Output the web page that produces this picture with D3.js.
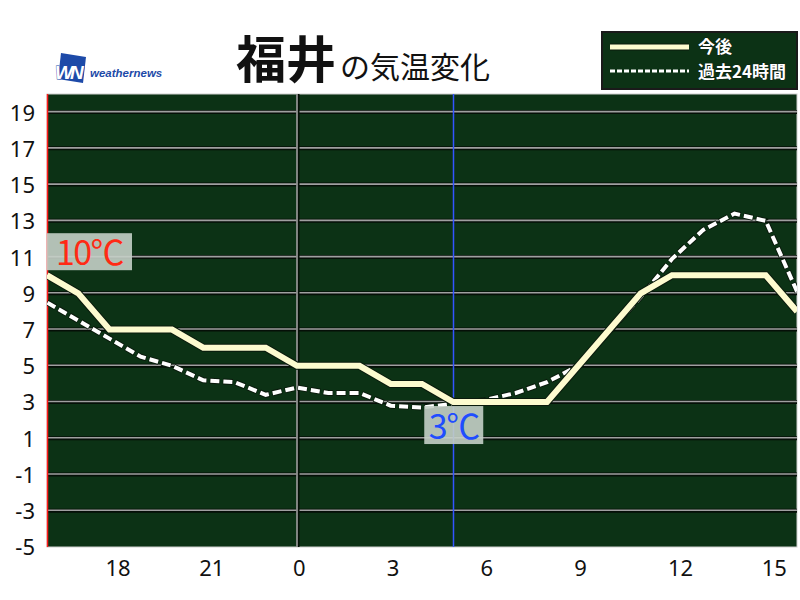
<!DOCTYPE html>
<html>
  <head>
    <meta charset="utf-8">
    <title>福井の気温変化</title>
    <script src="https://d3js.org/d3.v7.min.js"></script>
    <style>
      body { margin: 0; background: #fff; }
      svg text { font-family: "Noto Sans CJK JP", "Noto Sans", sans-serif; }
    </style>
  </head>
  <body>
    <svg id="chart" width="800" height="600"></svg>
    <script>
      // data: hourly temperatures from 16:00 to 16:00 next day
      const hours = [16, 17, 18, 19, 20, 21, 22, 23, 0, 1, 2, 3, 4, 5, 6, 7, 8, 9, 10, 11, 12, 13, 14, 15, 16];
      const forecast = [10, 9, 7, 7, 7, 6, 6, 6, 5, 5, 5, 4, 4, 3, 3, 3, 3, 5, 7, 9, 10, 10, 10, 10, 8];
      const past24 = [8.5, 7.5, 6.5, 5.5, 5.0, 4.2, 4.1, 3.4, 3.8, 3.5, 3.5, 2.8, 2.7, 2.9, 3.1, 3.5, 4.1, 5.0, 6.9, 8.8, 10.9, 12.5, 13.4, 13.0, 9.1];
      const hourTicks = [18, 21, 0, 3, 6, 9, 12, 15];
      const tempTicks = [-5, -3, -1, 1, 3, 5, 7, 9, 11, 13, 15, 17, 19];
      const legendLabels = ["今後", "過去24時間"];
      const city = "福井";

      const svg = d3.select("#chart");
      const margin = { top: 94, right: 3, bottom: 53, left: 47 };
      const width = 800, height = 600;

      const x = d3.scaleLinear()
        .domain([0, hours.length - 1])
        .range([margin.left, width - margin.right]);
      const y = d3.scaleLinear()
        .domain([-5, 20])
        .range([height - margin.bottom, margin.top]);

      // plot background
      svg.append("rect")
        .attr("x", x(0)).attr("y", y(20))
        .attr("width", x(24) - x(0)).attr("height", y(-5) - y(20))
        .attr("fill", "#0c3215")
        .attr("stroke", "#cfcfcf").attr("stroke-width", 1);

      // horizontal grid
      const grid = svg.append("g");
      tempTicks.filter(function(t) { return t > -5; }).forEach(function(t) {
        grid.append("line")
          .attr("x1", x(0)).attr("x2", x(24))
          .attr("y1", y(t)).attr("y2", y(t))
          .attr("stroke", "#050f07").attr("stroke-width", 4);
        grid.append("line")
          .attr("x1", x(0)).attr("x2", x(24))
          .attr("y1", y(t) - 0.5).attr("y2", y(t) - 0.5)
          .attr("stroke", "#a0a0a0").attr("stroke-width", 1.6);
      });

      // midnight line
      const midnight = hours.indexOf(0);
      grid.append("line")
        .attr("x1", x(midnight) + 1).attr("x2", x(midnight) + 1)
        .attr("y1", y(20)).attr("y2", y(-5))
        .attr("stroke", "#050f07").attr("stroke-width", 3);
      grid.append("line")
        .attr("x1", x(midnight)).attr("x2", x(midnight))
        .attr("y1", y(20)).attr("y2", y(-5))
        .attr("stroke", "#a0a0a0").attr("stroke-width", 1.6);

      // max / min markers
      const maxI = forecast.indexOf(d3.max(forecast));
      const minI = forecast.indexOf(d3.min(forecast));
      svg.append("line")
        .attr("x1", Math.round(x(maxI)) + 0.5).attr("x2", Math.round(x(maxI)) + 0.5)
        .attr("y1", y(20)).attr("y2", y(-5))
        .attr("stroke", "#ff1a1a").attr("stroke-width", 1.5);
      svg.append("line")
        .attr("x1", Math.round(x(minI)) + 0.5).attr("x2", Math.round(x(minI)) + 0.5)
        .attr("y1", y(20)).attr("y2", y(-5))
        .attr("stroke", "#3355ff").attr("stroke-width", 1.5);

      // lines
      const line = d3.line()
        .x(function(d, i) { return x(i); })
        .y(function(d) { return y(d); });

      svg.append("clipPath").attr("id", "plotClip")
        .append("rect")
        .attr("x", x(0)).attr("y", y(20))
        .attr("width", x(24) - x(0)).attr("height", y(-5) - y(20));
      const lines = svg.append("g").attr("clip-path", "url(#plotClip)");

      lines.append("path")
        .datum(past24)
        .attr("d", line)
        .attr("fill", "none")
        .attr("stroke", "#0a1a0c").attr("stroke-width", 6)
        .attr("stroke-dasharray", "10,3")
        .attr("stroke-linejoin", "round");
      lines.append("path")
        .datum(past24)
        .attr("d", line)
        .attr("fill", "none")
        .attr("stroke", "#ffffff").attr("stroke-width", 4)
        .attr("stroke-dasharray", "9,4")
        .attr("stroke-dashoffset", -0.5);

      lines.append("path")
        .datum(forecast)
        .attr("d", line)
        .attr("fill", "none")
        .attr("stroke", "#0a1a0c").attr("stroke-width", 8)
        .attr("stroke-linejoin", "miter");
      lines.append("path")
        .datum(forecast)
        .attr("d", line)
        .attr("fill", "none")
        .attr("stroke", "#fdfbcf").attr("stroke-width", 6)
        .attr("stroke-linejoin", "miter");

      // max / min labels
      function tempLabel(value, colour, bx, by, bw, bh) {
        svg.append("rect")
          .attr("x", bx).attr("y", by)
          .attr("width", bw).attr("height", bh)
          .attr("fill", "#c4cfc6").attr("fill-opacity", 0.9);
        svg.append("text")
          .attr("x", bx + bw / 2).attr("y", by + bh - 5)
          .attr("text-anchor", "middle")
          .attr("font-size", 34)
          .attr("letter-spacing", -1.5)
          .attr("fill", colour)
          .text(value + "℃");
      }
      tempLabel(forecast[maxI], "#ff2a14", x(maxI), y(forecast[maxI]) - 42, 85, 37);
      tempLabel(forecast[minI], "#1f4dff", x(minI) - 29, y(forecast[minI]) + 4, 59, 38);

      // axes
      const yAxis = d3.axisLeft(y)
        .tickValues(tempTicks)
        .tickSize(0)
        .tickPadding(12)
        .tickFormat(function(d) { return String(d); });
      const yAxisGroup = svg.append("g")
        .attr("transform", "translate(" + margin.left + ",0)")
        .call(yAxis);
      yAxisGroup.select(".domain").remove();
      yAxisGroup.selectAll("text")
        .attr("font-size", 22)
        .attr("fill", "#111")
        .attr("dy", "0.36em")
        .style("font-family", "\"Noto Sans\", sans-serif");

      const xAxisGroup = svg.append("g");
      hourTicks.forEach(function(h) {
        const i = hours.indexOf(h);
        xAxisGroup.append("text")
          .attr("x", x(i) - 4)
          .attr("y", 576)
          .attr("font-size", 22)
          .attr("fill", "#111")
          .style("font-family", "\"Noto Sans\", sans-serif")
          .text(h);
      });

      // title
      const title = svg.append("text").attr("y", 78).attr("x", 236);
      title.append("tspan")
        .attr("font-size", 50).attr("font-weight", "bold").attr("fill", "#111")
        .text(city);
      title.append("tspan")
        .attr("font-size", 30).attr("fill", "#111").attr("dx", 4)
        .text("の気温変化");

      // logo
      const logo = svg.append("g").attr("transform", "translate(55,53)");
      logo.append("path")
        .attr("d", "M6,0 L31,4 L28,30 L3,26 Z")
        .attr("fill", "#1d4aa8");
      logo.append("text")
        .attr("x", 0).attr("y", 26)
        .attr("font-size", 19).attr("font-weight", "bold").attr("font-style", "italic")
        .attr("fill", "#fff")
        .attr("stroke", "#1d4aa8").attr("stroke-width", 0.8)
        .attr("paint-order", "stroke")
        .attr("letter-spacing", -3)
        .style("font-family", "\"Liberation Sans\", sans-serif")
        .text("WN");
      logo.append("text")
        .attr("x", 35).attr("y", 24)
        .attr("font-size", 11.5).attr("font-weight", "bold").attr("font-style", "italic")
        .attr("fill", "#1d4aa8")
        .style("font-family", "\"Liberation Sans\", sans-serif")
        .text("weathernews");

      // legend
      const legend = svg.append("g").attr("transform", "translate(602,32)");
      legend.append("rect")
        .attr("width", 195).attr("height", 57)
        .attr("fill", "#0c3215")
        .attr("stroke", "#1a1a1a").attr("stroke-width", 2);
      legend.append("line")
        .attr("x1", 8).attr("x2", 87).attr("y1", 15).attr("y2", 15)
        .attr("stroke", "#0a1a0c").attr("stroke-width", 7);
      legend.append("line")
        .attr("x1", 8).attr("x2", 87).attr("y1", 15).attr("y2", 15)
        .attr("stroke", "#fdfbcf").attr("stroke-width", 5);
      legend.append("line")
        .attr("x1", 8).attr("x2", 87).attr("y1", 39).attr("y2", 39)
        .attr("stroke", "#ffffff").attr("stroke-width", 3)
        .attr("stroke-dasharray", "5,2");
      legendLabels.forEach(function(label, i) {
        legend.append("text")
          .attr("x", 96).attr("y", 21 + i * 25)
          .attr("font-size", 17).attr("font-weight", "bold")
          .attr("fill", "#fff")
          .attr("stroke", "#111").attr("stroke-width", 0.6)
          .attr("paint-order", "stroke")
          .text(label);
      });
    </script>
  </body>
</html>
